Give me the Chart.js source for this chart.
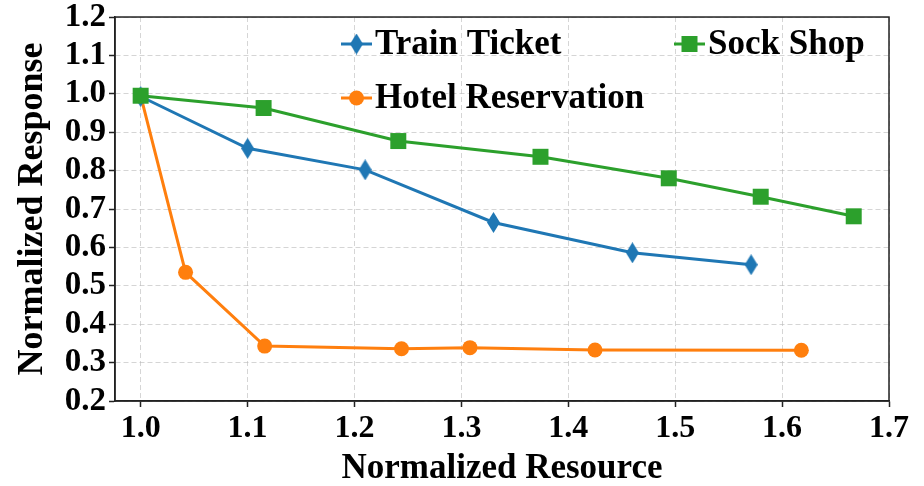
<!DOCTYPE html>
<html>
<head>
<meta charset="utf-8">
<script src="https://cdn.jsdelivr.net/npm/chart.js@4/dist/chart.umd.min.js"></script>
<style>
  html, body { margin: 0; padding: 0; background: #ffffff; }
  #wrap { width: 924px; height: 486px; position: relative; }
</style>
</head>
<body>
<div id="wrap"><canvas id="chart" width="924" height="486"></canvas></div>
<script>
// Resource vs. response trade-off for three microservice benchmarks
const trainTicketX = [1.0, 1.1, 1.21, 1.33, 1.46, 1.571];
const trainTicketY = [0.993, 0.858, 0.802, 0.665, 0.586, 0.555];

const sockShopX = [1.0, 1.115, 1.241, 1.374, 1.494, 1.58, 1.667];
const sockShopY = [0.995, 0.963, 0.877, 0.836, 0.78, 0.732, 0.681];

const hotelX = [1.0, 1.042, 1.116, 1.244, 1.308, 1.425, 1.618];
const hotelY = [0.995, 0.535, 0.343, 0.336, 0.339, 0.333, 0.332];

const xTicks = [1.0, 1.1, 1.2, 1.3, 1.4, 1.5, 1.6, 1.7];
const yTicks = [0.2, 0.3, 0.4, 0.5, 0.6, 0.7, 0.8, 0.9, 1.0, 1.1, 1.2];

const seriesNames = ['Train Ticket', 'Sock Shop', 'Hotel Reservation'];
const BLUE = '#1f77b4', ORANGE = '#ff7f0e', GREEN = '#2ca02c';
const FONT = "'Liberation Serif', 'Times New Roman', serif";

// narrow diamond marker (taller than wide)
function thinDiamond(color, w, h) {
  const c = document.createElement('canvas');
  c.width = w; c.height = h;
  const g = c.getContext('2d');
  g.fillStyle = color;
  g.beginPath();
  g.moveTo(w / 2, 0);
  g.lineTo(w, h / 2);
  g.lineTo(w / 2, h);
  g.lineTo(0, h / 2);
  g.closePath();
  g.fill();
  return c;
}
const diamondImg = thinDiamond(BLUE, 13, 21);

const pts = (xs, ys) => xs.map((x, i) => ({ x: x, y: ys[i] }));

// axes box on all four sides
const frame = {
  id: 'frame',
  afterDatasetsDraw(chart) {
    const { ctx, chartArea: a } = chart;
    ctx.save();
    ctx.setLineDash([]);
    ctx.strokeStyle = '#222';
    ctx.lineWidth = 1.5;
    ctx.strokeRect(a.left, a.top, a.right - a.left, a.bottom - a.top);
    ctx.restore();
  }
};

// legend drawn inside the plot area, two columns
const insideLegend = {
  id: 'insideLegend',
  afterDatasetsDraw(chart, args, opts) {
    const ctx = chart.ctx;
    ctx.save();
    ctx.setLineDash([]);
    opts.items.forEach(item => {
      const ds = chart.data.datasets.find(d => d.label === item.label);
      const y = item.y;
      ctx.strokeStyle = ds.borderColor;
      ctx.lineWidth = 3;
      ctx.beginPath();
      ctx.moveTo(item.x, y);
      ctx.lineTo(item.x + 31, y);
      ctx.stroke();
      const cx = item.x + 15.5;
      ctx.fillStyle = ds.borderColor;
      if (ds.pointStyle === 'rect') {
        ctx.fillRect(cx - 8, y - 8, 16, 16);
      } else if (ds.pointStyle === 'circle') {
        ctx.beginPath();
        ctx.arc(cx, y, 7.5, 0, Math.PI * 2);
        ctx.fill();
      } else {
        ctx.drawImage(ds.pointStyle, cx - ds.pointStyle.width / 2, y - ds.pointStyle.height / 2);
      }
      ctx.fillStyle = '#000';
      ctx.font = 'bold 35px ' + FONT;
      ctx.textBaseline = 'middle';
      ctx.textAlign = 'left';
      ctx.fillText(item.label, item.x + 34, y + 1);
    });
    ctx.restore();
  }
};

const gridStyle = {
  color: 'rgba(185,185,185,0.6)', lineWidth: 1,
  tickColor: '#222', tickWidth: 1.5, tickLength: 6, tickBorderDash: []
};
const borderStyle = { display: true, color: '#222', width: 1.5, dash: [5, 3] };

new Chart(document.getElementById('chart'), {
  type: 'line',
  data: {
    datasets: [
      {
        label: seriesNames[1],
        data: pts(sockShopX, sockShopY),
        borderColor: GREEN, backgroundColor: GREEN,
        borderWidth: 3, pointStyle: 'rect', pointRadius: 11.3,
        pointBorderWidth: 0, order: 0
      },
      {
        label: seriesNames[0],
        data: pts(trainTicketX, trainTicketY),
        borderColor: BLUE, backgroundColor: BLUE,
        borderWidth: 3, pointStyle: diamondImg, pointRadius: 10,
        pointBorderWidth: 0, order: 1
      },
      {
        label: seriesNames[2],
        data: pts(hotelX, hotelY),
        borderColor: ORANGE, backgroundColor: ORANGE,
        borderWidth: 3, pointStyle: 'circle', pointRadius: 7.5,
        pointBorderWidth: 0, order: 2
      }
    ]
  },
  options: {
    responsive: false,
    animation: false,
    events: [],
    layout: { padding: { top: 15, right: 35, bottom: 0, left: 0 } },
    elements: { line: { tension: 0 } },
    plugins: {
      legend: { display: false },
      tooltip: { enabled: false },
      insideLegend: {
        items: [
          { label: seriesNames[0], x: 341, y: 44 },
          { label: seriesNames[1], x: 674, y: 44 },
          { label: seriesNames[2], x: 341, y: 98 }
        ]
      }
    },
    scales: {
      x: {
        type: 'linear',
        min: 0.976, max: 1.7,
        afterBuildTicks: s => { s.ticks = xTicks.map(v => ({ value: v })); },
        afterFit: s => { s.height = 85; },
        grid: gridStyle,
        border: borderStyle,
        ticks: {
          color: '#000', padding: 6, maxRotation: 0,
          font: { family: FONT, size: 32, weight: 'bold', lineHeight: 1 },
          callback: v => Number(v).toFixed(1)
        },
        title: {
          display: true, text: 'Normalized Resource', color: '#000',
          font: { family: FONT, size: 35, weight: 'bold', lineHeight: 0.857 },
          padding: { top: 0, bottom: 2 }
        }
      },
      y: {
        type: 'linear',
        min: 0.2, max: 1.2,
        afterBuildTicks: s => { s.ticks = yTicks.map(v => ({ value: v })); },
        afterFit: s => { s.width = 115; },
        grid: gridStyle,
        border: borderStyle,
        ticks: {
          color: '#000', padding: 3,
          font: { family: FONT, size: 33, weight: 'bold', lineHeight: 0.85 },
          callback: v => Number(v).toFixed(1)
        },
        title: {
          display: true, text: 'Normalized Response', color: '#000',
          font: { family: FONT, size: 36, weight: 'bold', lineHeight: 1 },
          padding: { top: 15, bottom: 0 }
        }
      }
    }
  },
  plugins: [frame, insideLegend]
});
</script>
</body>
</html>
